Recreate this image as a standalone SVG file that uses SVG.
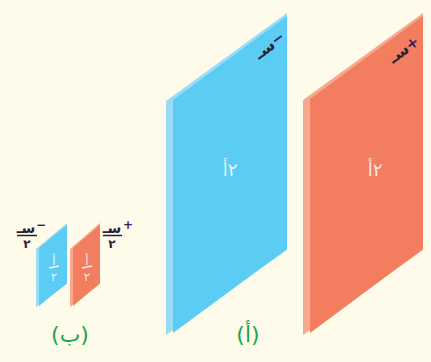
<svg xmlns="http://www.w3.org/2000/svg" width="431" height="362" viewBox="0 0 431 362">
<style>
.bl{fill:#5BCDF5}.bll{fill:#9ADCF8}.rd{fill:#F27E5F}.rdl{fill:#F7A88F}
.w{fill:#ffffff;fill-opacity:0.85;font-family:"DejaVu Sans",sans-serif;text-anchor:middle}
.k{fill:#2a1f33;font-family:"DejaVu Sans",sans-serif;font-weight:bold}
.s{fill:#3a1d5a;font-family:"DejaVu Sans",sans-serif;font-weight:bold}
.g{fill:#1FA34F;font-family:"DejaVu Sans",sans-serif;text-anchor:middle;font-size:22px}
</style>
<rect width="431" height="362" fill="#FEFBEA"/>
<g id="big-blue">
<polygon class="bll" points="166,101 287,13 287,250 166,335"/>
<polygon class="bl" points="173,100 287,16 287,249 173,333"/>
<text class="w" x="230" y="176" font-size="18">٢أ</text>
<g transform="translate(268,47) rotate(-37)">
<text class="k" x="-4" y="5" font-size="16" text-anchor="middle">سـ</text>
<text class="s" x="13" y="4" font-size="15" text-anchor="middle">−</text>
</g>
</g>
<g id="big-red">
<polygon class="rdl" points="303,100 423,13 423,250 303,335"/>
<polygon class="rd" points="310,99 423,16 423,249 310,333"/>
<text class="w" x="375" y="176" font-size="18">٢أ</text>
<g transform="translate(402,51) rotate(-37)">
<text class="k" x="-4" y="5" font-size="16" text-anchor="middle">سـ</text>
<text class="s" x="13" y="5" font-size="15" text-anchor="middle">+</text>
</g>
</g>
<g id="small-blue">
<polygon class="bll" points="36,249 67,223 67,284 36,307"/>
<polygon class="bl" points="39,248 67,225 67,283 39,306"/>
<text class="w" x="54" y="265" font-size="12">أ</text>
<line x1="49" y1="268" x2="59" y2="266" stroke="#fff" stroke-opacity="0.85" stroke-width="1.3"/>
<text class="w" x="54" y="281" font-size="12">٢</text>
</g>
<g id="small-red">
<polygon class="rdl" points="70,249 100,223 100,284 70,307"/>
<polygon class="rd" points="73,248 100,225 100,283 73,306"/>
<text class="w" x="87" y="265" font-size="12">أ</text>
<line x1="82" y1="268" x2="92" y2="266" stroke="#fff" stroke-opacity="0.85" stroke-width="1.3"/>
<text class="w" x="87" y="281" font-size="12">٢</text>
</g>
<g id="label-minus">
<text class="k" x="26" y="233" font-size="14" text-anchor="middle">سـ</text>
<text class="s" x="41" y="229" font-size="12" text-anchor="middle">−</text>
<line x1="17" y1="235.5" x2="37" y2="235.5" stroke="#2a1f33" stroke-width="1.5"/>
<text class="k" x="27" y="248" font-size="12" text-anchor="middle">٢</text>
</g>
<g id="label-plus">
<text class="k" x="112" y="233" font-size="14" text-anchor="middle">سـ</text>
<text class="s" x="128" y="229" font-size="12" text-anchor="middle">+</text>
<line x1="103" y1="235.5" x2="122" y2="235.5" stroke="#2a1f33" stroke-width="1.5"/>
<text class="k" x="112" y="248" font-size="12" text-anchor="middle">٢</text>
</g>
<g id="captions">
<text class="g" x="70" y="342">(ب)</text>
<text class="g" x="248" y="342">(أ)</text>
</g>
</svg>
